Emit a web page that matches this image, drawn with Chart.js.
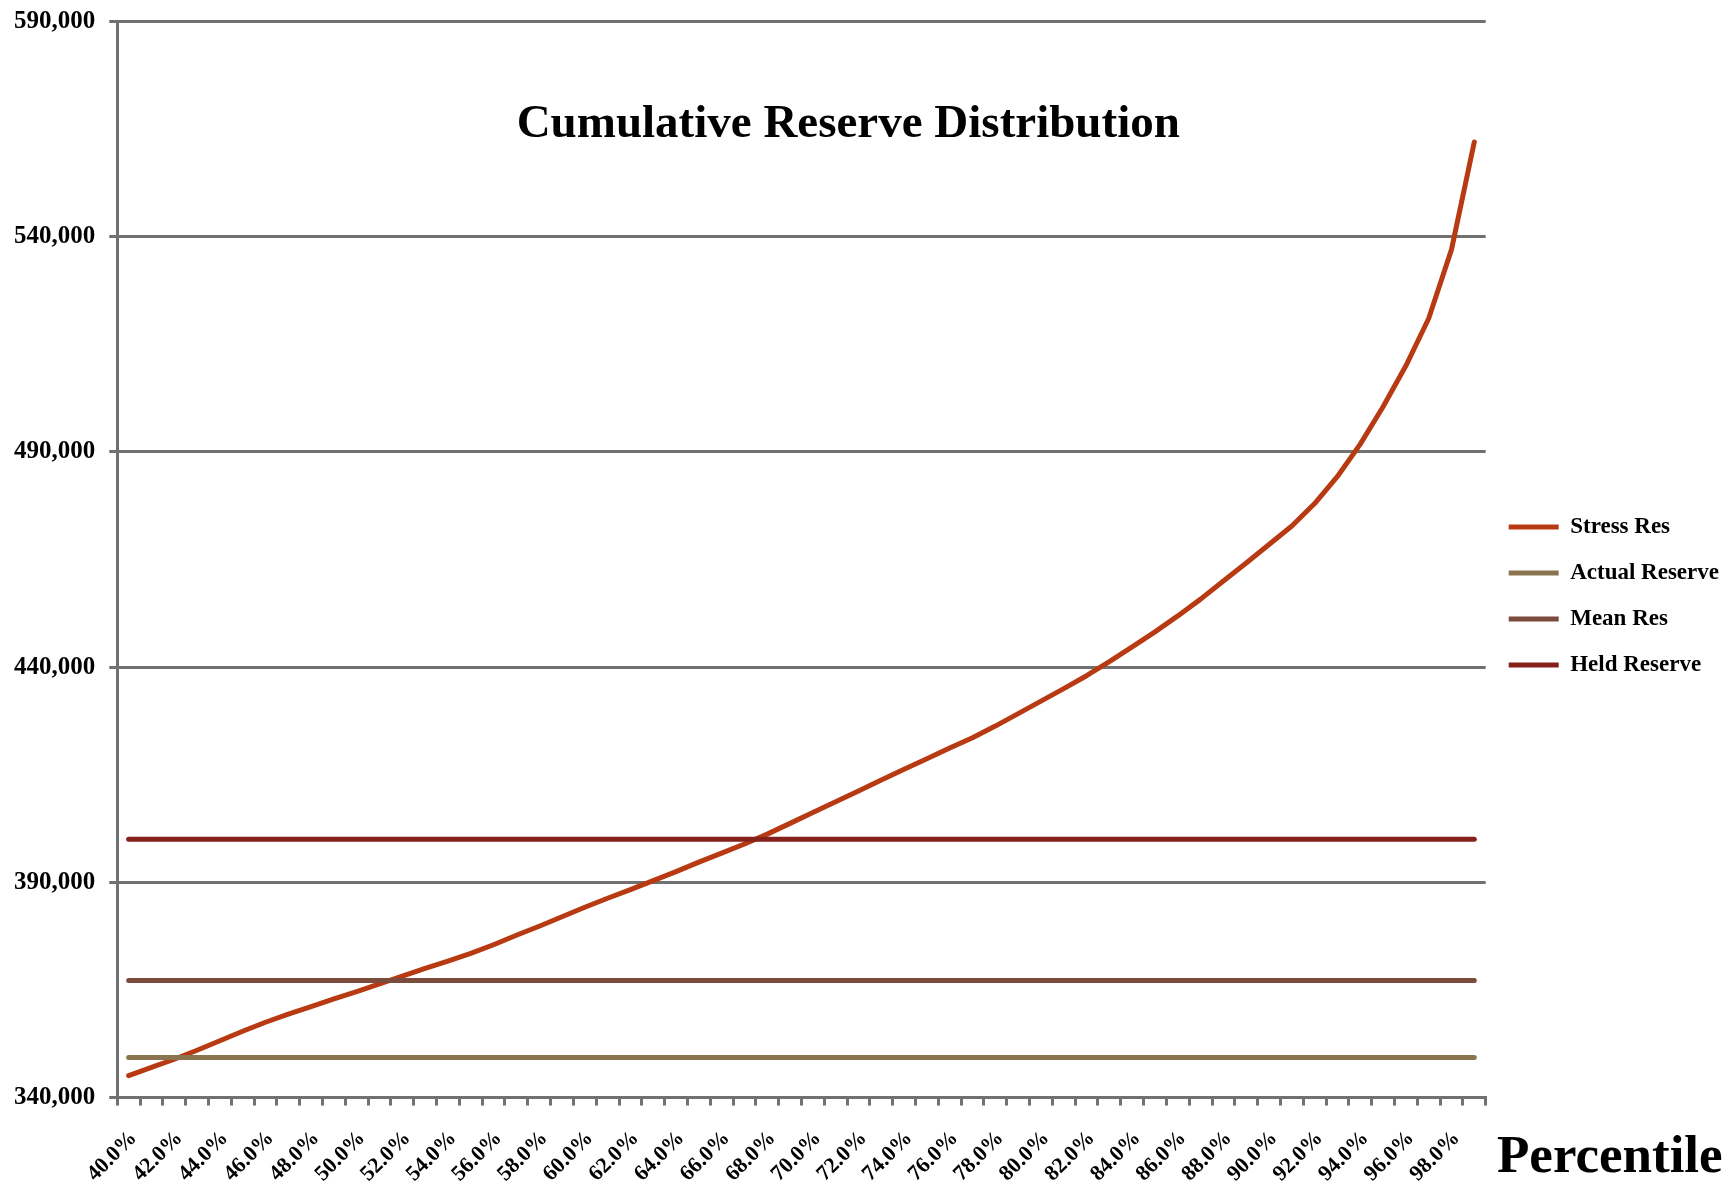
<!DOCTYPE html>
<html>
<head>
<meta charset="utf-8">
<script src="https://cdn.jsdelivr.net/npm/chart.js"></script>
<style>
  body { margin: 0; padding: 0; background: #fff; }
  .chart-wrapper { width: 1732px; height: 1186px; position: relative; }
</style>
</head>
<body>
<div class="chart-wrapper">
  <canvas id="reserveChart"></canvas>
</div>
<script>
// percentiles 40% .. 99%, one per category
const percentiles = ['40.0%','41.0%','42.0%','43.0%','44.0%','45.0%','46.0%','47.0%','48.0%','49.0%',
  '50.0%','51.0%','52.0%','53.0%','54.0%','55.0%','56.0%','57.0%','58.0%','59.0%',
  '60.0%','61.0%','62.0%','63.0%','64.0%','65.0%','66.0%','67.0%','68.0%','69.0%',
  '70.0%','71.0%','72.0%','73.0%','74.0%','75.0%','76.0%','77.0%','78.0%','79.0%',
  '80.0%','81.0%','82.0%','83.0%','84.0%','85.0%','86.0%','87.0%','88.0%','89.0%',
  '90.0%','91.0%','92.0%','93.0%','94.0%','95.0%','96.0%','97.0%','98.0%','99.0%'];

const stressRes = [345100, 347000, 348900, 351000, 353200, 355400, 357500, 359400, 361100, 362900,
  364600, 366400, 368200, 370000, 371700, 373500, 375500, 377700, 379800, 382000,
  384200, 386300, 388300, 390400, 392500, 394700, 396800, 398900, 401200, 403700,
  406200, 408700, 411200, 413800, 416300, 418700, 421200, 423600, 426300, 429200,
  432100, 435000, 438000, 441300, 444700, 448200, 451900, 455800, 460000, 464200,
  468500, 472800, 478000, 484300, 491800, 500500, 510000, 521000, 537000, 562000];

const actualReserve = 349300;
const meanRes = 367200;
const heldReserve = 400000;

const yTicks = { min: 340000, max: 590000, step: 50000 };

const gridGray = '#717171';
const serif = "'Liberation Serif', 'Times New Roman', serif";

// flat lines run from the first to the last percentile
const flat = v => [{ x: percentiles[0], y: v }, { x: percentiles[percentiles.length - 1], y: v }];

// title inside the plot and the big axis caption at bottom right
const captions = {
  id: 'captions',
  afterDraw(chart) {
    const { ctx, chartArea } = chart;
    ctx.save();
    ctx.fillStyle = '#000';
    ctx.textBaseline = 'alphabetic';
    ctx.textAlign = 'center';
    ctx.font = 'bold 47px ' + serif;
    ctx.fillText('Cumulative Reserve Distribution', chartArea.left + 731, 137);
    ctx.textAlign = 'left';
    ctx.font = 'bold 53px ' + serif;
    ctx.fillText('Percentile', 1497, 1172);
    ctx.restore();
  }
};

new Chart(document.getElementById('reserveChart'), {
  type: 'line',
  data: {
    labels: percentiles,
    datasets: [
      { label: 'Stress Res', data: stressRes, borderColor: '#B83A12', backgroundColor: '#B83A12',
        borderWidth: 5, order: 1 },
      { label: 'Actual Reserve', data: flat(actualReserve), borderColor: '#8B7550', backgroundColor: '#8B7550',
        borderWidth: 5, order: 0 },
      { label: 'Mean Res', data: flat(meanRes), borderColor: '#7B4B3E', backgroundColor: '#7B4B3E',
        borderWidth: 5, order: 0 },
      { label: 'Held Reserve', data: flat(heldReserve), borderColor: '#85201A', backgroundColor: '#85201A',
        borderWidth: 5, order: 0 }
    ]
  },
  options: {
    responsive: true,
    maintainAspectRatio: false,
    animation: false,
    datasets: {
      line: { pointRadius: 0, pointHoverRadius: 0, tension: 0, borderCapStyle: 'round', borderJoinStyle: 'round', fill: false }
    },
    // top is set by the y labels; negative top only recentres the legend
    layout: { padding: { top: -15, left: 0, right: 3, bottom: -21 } },
    scales: {
      x: {
        type: 'category',
        offset: true,
        grid: { offset: true, drawOnChartArea: false, drawTicks: true, tickLength: 8, color: gridGray, lineWidth: 3 },
        border: { color: gridGray, width: 3 },
        ticks: {
          autoSkip: false,
          minRotation: 45,
          maxRotation: 45,
          padding: 20,
          labelOffset: 5,
          color: '#000',
          font: { family: serif, weight: 'bold', size: 22 },
          callback: function (value, index) {
            return index % 2 === 0 ? this.getLabelForValue(value) : '';
          }
        }
      },
      y: {
        min: yTicks.min,
        max: yTicks.max,
        grid: { color: gridGray, lineWidth: 3, tickLength: 8 },
        border: { color: gridGray, width: 3 },
        ticks: {
          stepSize: yTicks.step,
          padding: 14,
          color: '#000',
          font: { family: serif, weight: 'bold', size: 25, lineHeight: 0.6 },
          callback: v => v.toLocaleString('en-US')
        }
      }
    },
    plugins: {
      title: { display: false },
      tooltip: { enabled: false },
      legend: {
        position: 'right',
        align: 'center',
        labels: {
          usePointStyle: true,
          pointStyle: 'line',
          pointStyleWidth: 50,
          padding: 23,
          color: '#000',
          font: { family: serif, weight: 'bold', size: 23 },
          sort: (a, b) => a.datasetIndex - b.datasetIndex
        }
      }
    }
  },
  plugins: [captions]
});
</script>
</body>
</html>
